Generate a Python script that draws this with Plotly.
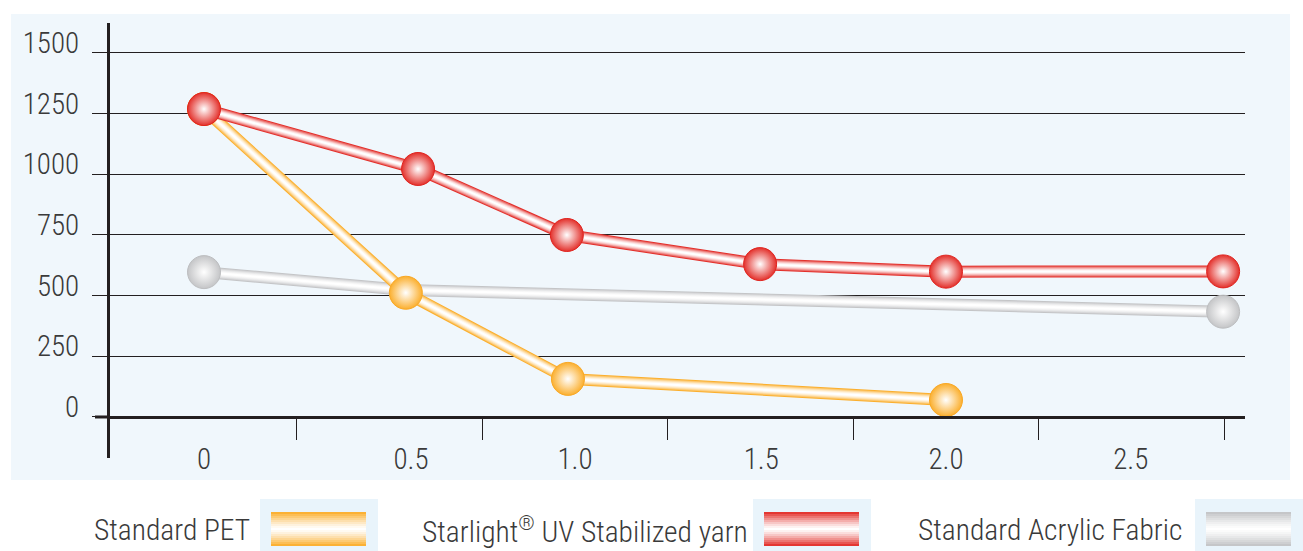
import plotly.graph_objects as go

# ---------------- data ----------------
x_tick_labels = ["0", "0.5", "1.0", "1.5", "2.0", "2.5"]
x_label_pos = [0.0, 0.558, 1.0, 1.502, 2.0, 2.498]
x_tick_marks = [0.25, 0.75, 1.25, 1.75, 2.25, 2.75]
y_ticks = [0, 250, 500, 750, 1000, 1250, 1500]

pet_name = "Standard PET"
pet_x = [0.0, 0.544, 0.981, 2.0]
pet_y = [1269, 512, 157, 70]

uv_name = "Starlight<sup>®</sup> UV Stabilized yarn"
uv_x = [0.0, 0.577, 0.978, 1.499, 2.0, 2.747]
uv_y = [1269, 1022, 750, 630, 599, 600]

acr_name = "Standard Acrylic Fabric"
acr_x = [0.0, 0.544, 2.747]
acr_y = [597, 523, 434]

# ---------------- geometry helpers ----------------
W, H = 1303, 551
ML, MR, MT, MB = 110, 58, 23, 93
PW, PH = W - ML - MR, H - MT - MB


def px(xp):
    return (xp - ML) / PW


def py(yp):
    return (H - MB - yp) / PH


FONT = "Liberation Sans Narrow, Arial Narrow, Roboto Condensed, sans-serif"
DARK = "#231F20"
TXT = "#3A3A3A"


def lerp(c1, c2, t):
    a = [int(c1[i:i + 2], 16) for i in (1, 3, 5)]
    b = [int(c2[i:i + 2], 16) for i in (1, 3, 5)]
    return "#" + "".join(f"{round(a[k] + (b[k] - a[k]) * t):02X}" for k in range(3))


series = [
    # name, x, y, base colour, edge colour, marker sizes
    (acr_name, acr_x, acr_y, "#C4C5C7", "#BDBEC0", [33, 0, 33]),
    (pet_name, pet_x, pet_y, "#FBAF2E", "#F9A825", [33] * len(pet_x)),
    (uv_name, uv_x, uv_y, "#E3302B", "#E0241F", [33] * len(uv_x)),
]

fig = go.Figure()

for name, xs, ys, base, edge, sizes in series:
    layers = [(12, 0.0), (10, 0.3), (8, 0.55), (6, 0.75), (4, 0.9), (2, 1.0)]
    for w, t in layers:
        fig.add_trace(go.Scatter(
            x=xs, y=ys, mode="lines", name=name, showlegend=False,
            line=dict(color=lerp(base, "#FFFFFF", t), width=w), hoverinfo="skip"))
    fig.add_trace(go.Scatter(
        x=xs, y=ys, mode="markers", name=name, showlegend=False,
        marker=dict(size=sizes, color=base,
                    gradient=dict(type="radial", color="#FFFFFF"),
                    line=dict(color=edge, width=1), opacity=1)))

shapes = []
# light blue panel
shapes.append(dict(type="rect", xref="paper", yref="paper",
                   x0=px(11), x1=px(1290), y0=py(480), y1=py(14),
                   fillcolor="#F0F7FC", line=dict(width=0), layer="below"))
# left extension of the zero line
shapes.append(dict(type="line", xref="paper", yref="y",
                   x0=px(95), x1=px(110), y0=0, y1=0,
                   line=dict(color=DARK, width=3), layer="above"))

legend_items = [
    (pet_name, 92, 260, 378, "#FBAF2E"),
    (uv_name, 420, 753, 871, "#E3302B"),
    (acr_name, 916, 1195, 1303, "#C3C4C6"),
]

annotations = []
for name, tx, bx0, bx1, col in legend_items:
    annotations.append(dict(text=name, xref="paper", yref="paper",
                            x=px(tx), y=py(530), xanchor="left", yanchor="middle",
                            showarrow=False,
                            font=dict(family=FONT, size=29.5, color=TXT, weight=300)))
    # swatch background
    shapes.append(dict(type="rect", xref="paper", yref="paper",
                       x0=px(bx0), x1=px(bx1), y0=py(551), y1=py(499),
                       fillcolor="#E9F4FB", line=dict(width=0), layer="below"))
    # gradient bar (edges coloured, centre white)
    y_top, y_bot = 512, 546
    n = 17
    step = (y_bot - y_top) / n
    for k in range(n):
        t = abs((k + 0.5) / n - 0.5) * 2  # 0 centre .. 1 edge
        c = lerp("#FFFFFF", col, min(1, t ** 1.3 * 1.05))
        shapes.append(dict(type="rect", xref="paper", yref="paper",
                           x0=px(bx0 + 11), x1=px(min(bx1 - 12, 1300)),
                           y0=py(y_top + (k + 1) * step), y1=py(y_top + k * step),
                           fillcolor=c, line=dict(width=0), layer="above"))

fig.update_layout(
    width=W, height=H,
    margin=dict(l=ML, r=MR, t=MT, b=MB, pad=0),
    paper_bgcolor="#FFFFFF",
    plot_bgcolor="rgba(0,0,0,0)",
    showlegend=False,
    shapes=shapes,
    annotations=annotations,
    font=dict(family=FONT, color=TXT, weight=300),
    xaxis=dict(
        range=[-0.2534, 2.806], domain=[0, 1], anchor="free", position=py(417),
        showline=True, linewidth=3, linecolor=DARK, showgrid=False, zeroline=False,
        tickmode="array", tickvals=x_label_pos, ticktext=x_tick_labels,
        ticks="", ticklabelstandoff=15,
        tickfont=dict(family=FONT, size=29, color=TXT, weight=300),
        minor=dict(tickmode="array", tickvals=x_tick_marks, ticks="outside",
                   ticklen=21, tickwidth=1, tickcolor=DARK, showgrid=False),
    ),
    yaxis=dict(
        range=[-169, 1623.6], domain=[0, 1],
        showline=True, linewidth=3, linecolor=DARK,
        showgrid=True, gridcolor=DARK, gridwidth=1, zeroline=False,
        tickmode="array", tickvals=y_ticks, ticktext=[str(v) for v in y_ticks],
        ticks="outside", ticklen=15, tickwidth=1, tickcolor=DARK,
        ticklabelshift=-10, ticklabelstandoff=7,
        tickfont=dict(family=FONT, size=29, color=TXT, weight=300),
    ),
)

fig.write_html("out.html", config={"displayModeBar": False},
               post_script="document.body.style.margin='0';")
